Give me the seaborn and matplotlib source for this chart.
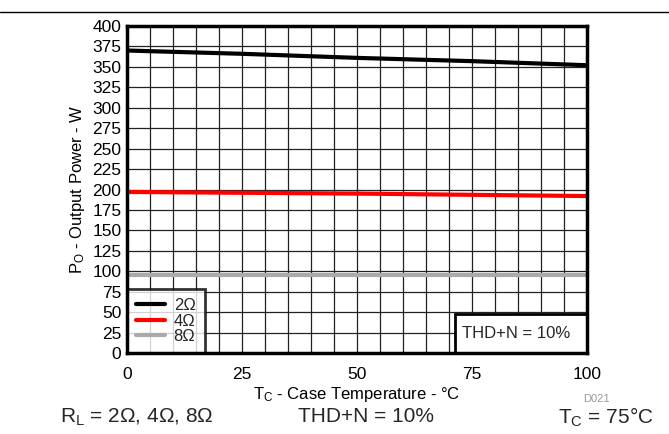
import matplotlib
matplotlib.use("Agg")
import matplotlib.pyplot as plt
import seaborn as sns
import pandas as pd
from matplotlib.lines import Line2D
from matplotlib.patches import Rectangle

# ---- data ----
temps = [0, 25, 50, 75, 100]
p_2ohm = [370, 366, 361, 357, 352]
p_4ohm = [197, 196, 195, 193.5, 192]
p_8ohm = [96, 96, 96, 96, 96]
loads = ["2Ω", "4Ω", "8Ω"]
x_ticks = [0, 25, 50, 75, 100]
y_ticks = list(range(0, 401, 25))

df = pd.DataFrame({
    "T": temps * 3,
    "P": p_2ohm + p_4ohm + p_8ohm,
    "R": [loads[0]] * 5 + [loads[1]] * 5 + [loads[2]] * 5,
})

sns.set_theme(style="white")
plt.rcParams["font.family"] = ["Liberation Sans", "DejaVu Sans"]
plt.rcParams["mathtext.default"] = "regular"

fig = plt.figure(figsize=(6.69, 4.34), dpi=100)
ax = fig.add_axes([127 / 669, 1 - 353 / 434, 460 / 669, 327 / 434])

# grid
for x in range(5, 100, 5):
    ax.axvline(x, color="#222222", lw=0.9, zorder=1)
for y in range(25, 400, 25):
    ax.axhline(y, color="#222222", lw=0.9, zorder=1)

palette = {"2Ω": "black", "4Ω": "#ff0000", "8Ω": "#aaaaaa"}
sns.lineplot(data=df, x="T", y="P", hue="R", palette=palette, lw=3,
             ax=ax, legend=False, zorder=3)

ax.set_xlim(0, 100)
ax.set_ylim(0, 400)
ax.set_xticks(x_ticks)
ax.set_yticks(y_ticks)
ax.tick_params(axis="both", length=0, labelsize=12.5, colors="black")
ax.tick_params(axis="x", pad=10)
ax.tick_params(axis="y", pad=4)
for s in ax.spines.values():
    s.set_visible(True)
    s.set_color("black")
    s.set_linewidth(2.5)
    s.set_zorder(7)

ax.set_xlabel("T$_C$ - Case Temperature - °C", fontsize=12, color="black", labelpad=2)
ax.set_ylabel("P$_O$ - Output Power - W", fontsize=12, color="black", labelpad=4)

handles = [Line2D([0], [0], color=palette[l], lw=3) for l in loads]
leg = ax.legend(handles, loads, loc="lower left", bbox_to_anchor=(0, 0),
                borderaxespad=0, frameon=True, fancybox=False, fontsize=12,
                handlelength=1.75, handletextpad=0.5, labelspacing=0.02,
                borderpad=0.55)
leg.get_frame().set_edgecolor("black")
leg.get_frame().set_linewidth(2)
leg.set_zorder(5)

# THD+N box inside the plot area
ax.add_patch(Rectangle((71.3, 0), 28.7, 47.7, fc="white", ec="black", lw=2, zorder=5))
ax.text(72.9, 24, "THD+N = 10%", ha="left", va="center", fontsize=12, zorder=6)

# figure annotations
fig.add_artist(Line2D([0, 1], [1 - 12 / 434, 1 - 12 / 434], color="black", lw=1))
fig.text(583 / 669, 1 - 399 / 434, "D021", fontsize=8, color="#999999", ha="left", va="center")
fig.text(137 / 669, 1 - 417 / 434, "R$_L$ = 2Ω, 4Ω, 8Ω", fontsize=15, ha="center", va="center")
fig.text(366 / 669, 1 - 417 / 434, "THD+N = 10%", fontsize=15, ha="center", va="center")
fig.text(606 / 669, 1 - 417 / 434, "T$_C$ = 75°C", fontsize=15, ha="center", va="center")

fig.savefig("out.png", dpi=100)
